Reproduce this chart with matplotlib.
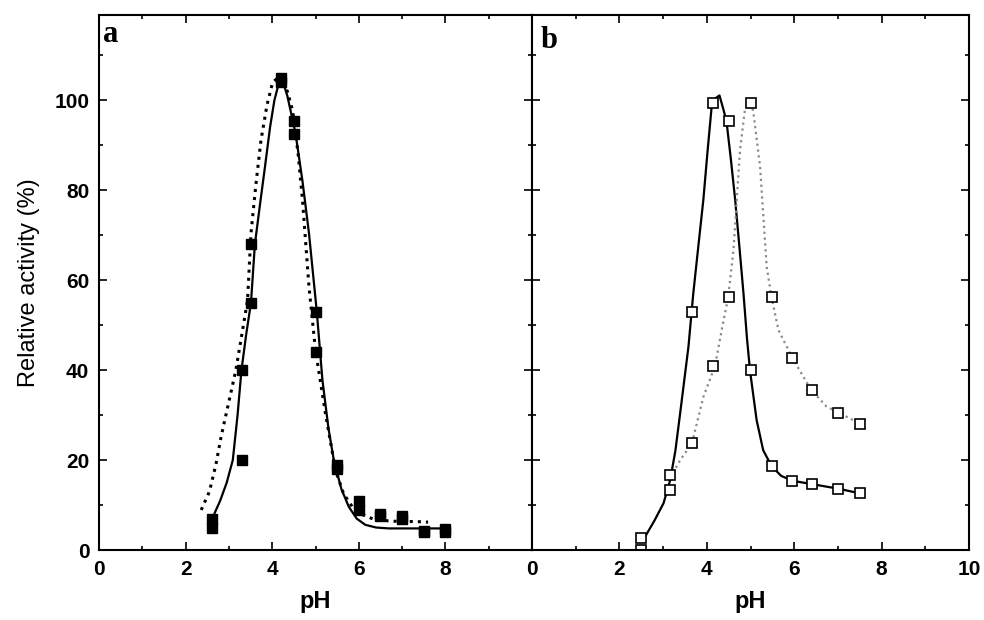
import matplotlib
matplotlib.use("Agg")
import matplotlib.pyplot as plt
from matplotlib.ticker import MultipleLocator

# ---- Panel a data (filled squares) ----
ph_a = [2.6, 3.3, 3.5, 4.2, 4.5, 5.0, 5.5, 6.0, 6.5, 7.0, 7.5, 8.0]
act_a_solid = [5, 20, 55, 104, 95.5, 53, 19, 9, 7.5, 7, 4, 4]
act_a_dot = [7, 40, 68, 105, 92.5, 44, 18, 11, 8, 7.5, 4.2, 4.6]

# fitted curves (panel a)
fit_a_solid_x = [2.67, 2.8, 2.95, 3.09, 3.2, 3.29, 3.4, 3.51, 3.6, 3.72, 3.83, 3.95, 4.05, 4.2,
                 4.35, 4.54, 4.7, 4.85, 5.03, 5.16, 5.3, 5.43, 5.6, 5.77, 5.95, 6.15, 6.4, 6.69, 7.2, 7.6, 8.1]
fit_a_solid_y = [8.2, 11, 15, 20, 30, 40, 48, 55, 68, 77, 85, 94, 100, 105.6,
                 101, 92.6, 82, 70.4, 53, 37.8, 27, 19.6, 13.5, 9.6, 7, 5.6, 5, 4.8, 4.8, 4.8, 4.8]
fit_a_dot_x = [2.36, 2.55, 2.7, 2.82, 3.0, 3.16, 3.3, 3.43, 3.51, 3.62, 3.74, 3.88, 4.01, 4.2,
               4.35, 4.47, 4.6, 4.7, 4.85, 5.0, 5.23, 5.46, 5.65, 5.85, 6.1, 6.38, 6.8, 7.38, 7.6]
fit_a_dot_y = [8.9, 13, 19, 25.2, 33, 40, 48, 55.5, 70.4, 81, 91.1, 99, 104, 105.6,
               102, 97.8, 88, 77.8, 58.5, 44.4, 30.4, 17.8, 12.5, 9.6, 7.8, 6.7, 6.4, 6.3, 6.2]

# ---- Panel b data (open squares) ----
ph_b = [2.5, 3.15, 3.65, 4.15, 4.5, 5.0, 5.5, 5.95, 6.4, 7.0, 7.5]
act_b_solid = [2.6, 13.3, 53, 99.5, 95.5, 40, 18.7, 15.4, 14.7, 13.6, 12.6]
act_b_dot = [0, 16.7, 23.7, 41, 56.3, 99.5, 56.3, 42.7, 35.7, 30.5, 28.1]

fit_b_solid_x = [2.52, 2.59, 2.8, 3.01, 3.16, 3.28, 3.39, 3.58, 3.69, 3.8, 3.92, 4.02, 4.11, 4.2, 4.29,
                 4.38, 4.45, 4.55, 4.65, 4.75, 4.84, 4.92, 4.99, 5.14, 5.29, 5.48, 5.7, 5.96, 6.38, 7.03, 7.5]
fit_b_solid_y = [2.6, 3, 6.5, 10.4, 15.5, 22, 30.4, 45.2, 57, 67, 77.8, 89, 98.5, 100.5, 101.1,
                 98, 95.4, 87, 77.8, 67, 57, 47, 39.8, 28.9, 22.2, 18.7, 16.5, 15.4, 14.7, 13.6, 12.6]
fit_b_dot_x = [3.16, 3.39, 3.66, 3.92, 4.19, 4.34, 4.49, 4.61, 4.76, 4.87, 4.95, 5.06, 5.22, 5.37,
               5.48, 5.64, 5.96, 6.38, 6.74, 7.03, 7.5]
fit_b_dot_y = [16, 20, 23.7, 34, 41, 48.9, 56.3, 66.7, 88.9, 97.8, 99.4, 97.8, 85.2, 63,
               56.3, 48.9, 42.7, 35.7, 31.9, 30.5, 28.1]

xticks_a = [0, 2, 4, 6, 8]
xticks_b = [0, 2, 4, 6, 8, 10]
yticks = [0, 20, 40, 60, 80, 100]

plt.rcParams['font.family'] = ['Liberation Sans', 'DejaVu Sans']

fig = plt.figure(figsize=(9.84, 6.2), dpi=100)
W, H = 984, 620
bottom = 1 - 550 / H
top = 1 - 15 / H
ax_a = fig.add_axes([99 / W, bottom, (532 - 99) / W, top - bottom])
ax_b = fig.add_axes([532 / W, bottom, (969 - 532) / W, top - bottom])

for ax in (ax_a, ax_b):
    ax.set_xlim(0, 10)
    ax.set_ylim(0, 119)
    ax.xaxis.set_minor_locator(MultipleLocator(1))
    ax.yaxis.set_minor_locator(MultipleLocator(10))
    ax.tick_params(which='both', direction='in', top=True, right=True, width=1.2)
    ax.tick_params(which='major', length=6, labelsize=15, pad=7)
    ax.tick_params(which='minor', length=3)
    for s in ax.spines.values():
        s.set_linewidth(1.5)
    ax.set_xlabel('pH', fontsize=17, fontweight='bold', labelpad=8)

ax_a.set_xticks(xticks_a)
ax_b.set_xticks(xticks_b)
ax_a.set_yticks(yticks)
ax_b.set_yticks(yticks)
ax_b.tick_params(labelleft=False)
for ax in (ax_a, ax_b):
    for lbl in ax.get_xticklabels() + ax.get_yticklabels():
        lbl.set_fontweight('bold')
ax_a.set_ylabel('Relative activity (%)', fontsize=17, labelpad=10)

# Panel a
ax_a.plot(fit_a_solid_x, fit_a_solid_y, '-', color='black', lw=1.6)
ax_a.plot(fit_a_dot_x, fit_a_dot_y, ':', color='black', lw=2.2)
ax_a.plot(ph_a, act_a_solid, 's', color='black', ms=6.5, ls='none')
ax_a.plot(ph_a, act_a_dot, 's', color='black', ms=6.5, ls='none')

# Panel b
ax_b.plot(fit_b_solid_x, fit_b_solid_y, '-', color='black', lw=1.6)
ax_b.plot(fit_b_dot_x, fit_b_dot_y, ':', color='#8a8a8a', lw=1.6)
ax_b.plot(ph_b, act_b_solid, 's', mfc='white', mec='black', mew=1.2, ms=7.5, ls='none')
ax_b.plot(ph_b, act_b_dot, 's', mfc='white', mec='black', mew=1.2, ms=7.5, ls='none')

ax_a.text(0.09, 112.9, 'a', ha='left', va='baseline',
          fontsize=22, fontweight='bold', family=['Liberation Serif', 'DejaVu Serif'])
ax_b.text(0.2, 111.6, 'b', ha='left', va='baseline',
          fontsize=22, fontweight='bold', family=['Liberation Serif', 'DejaVu Serif'])

fig.savefig('out.png', dpi=100)
